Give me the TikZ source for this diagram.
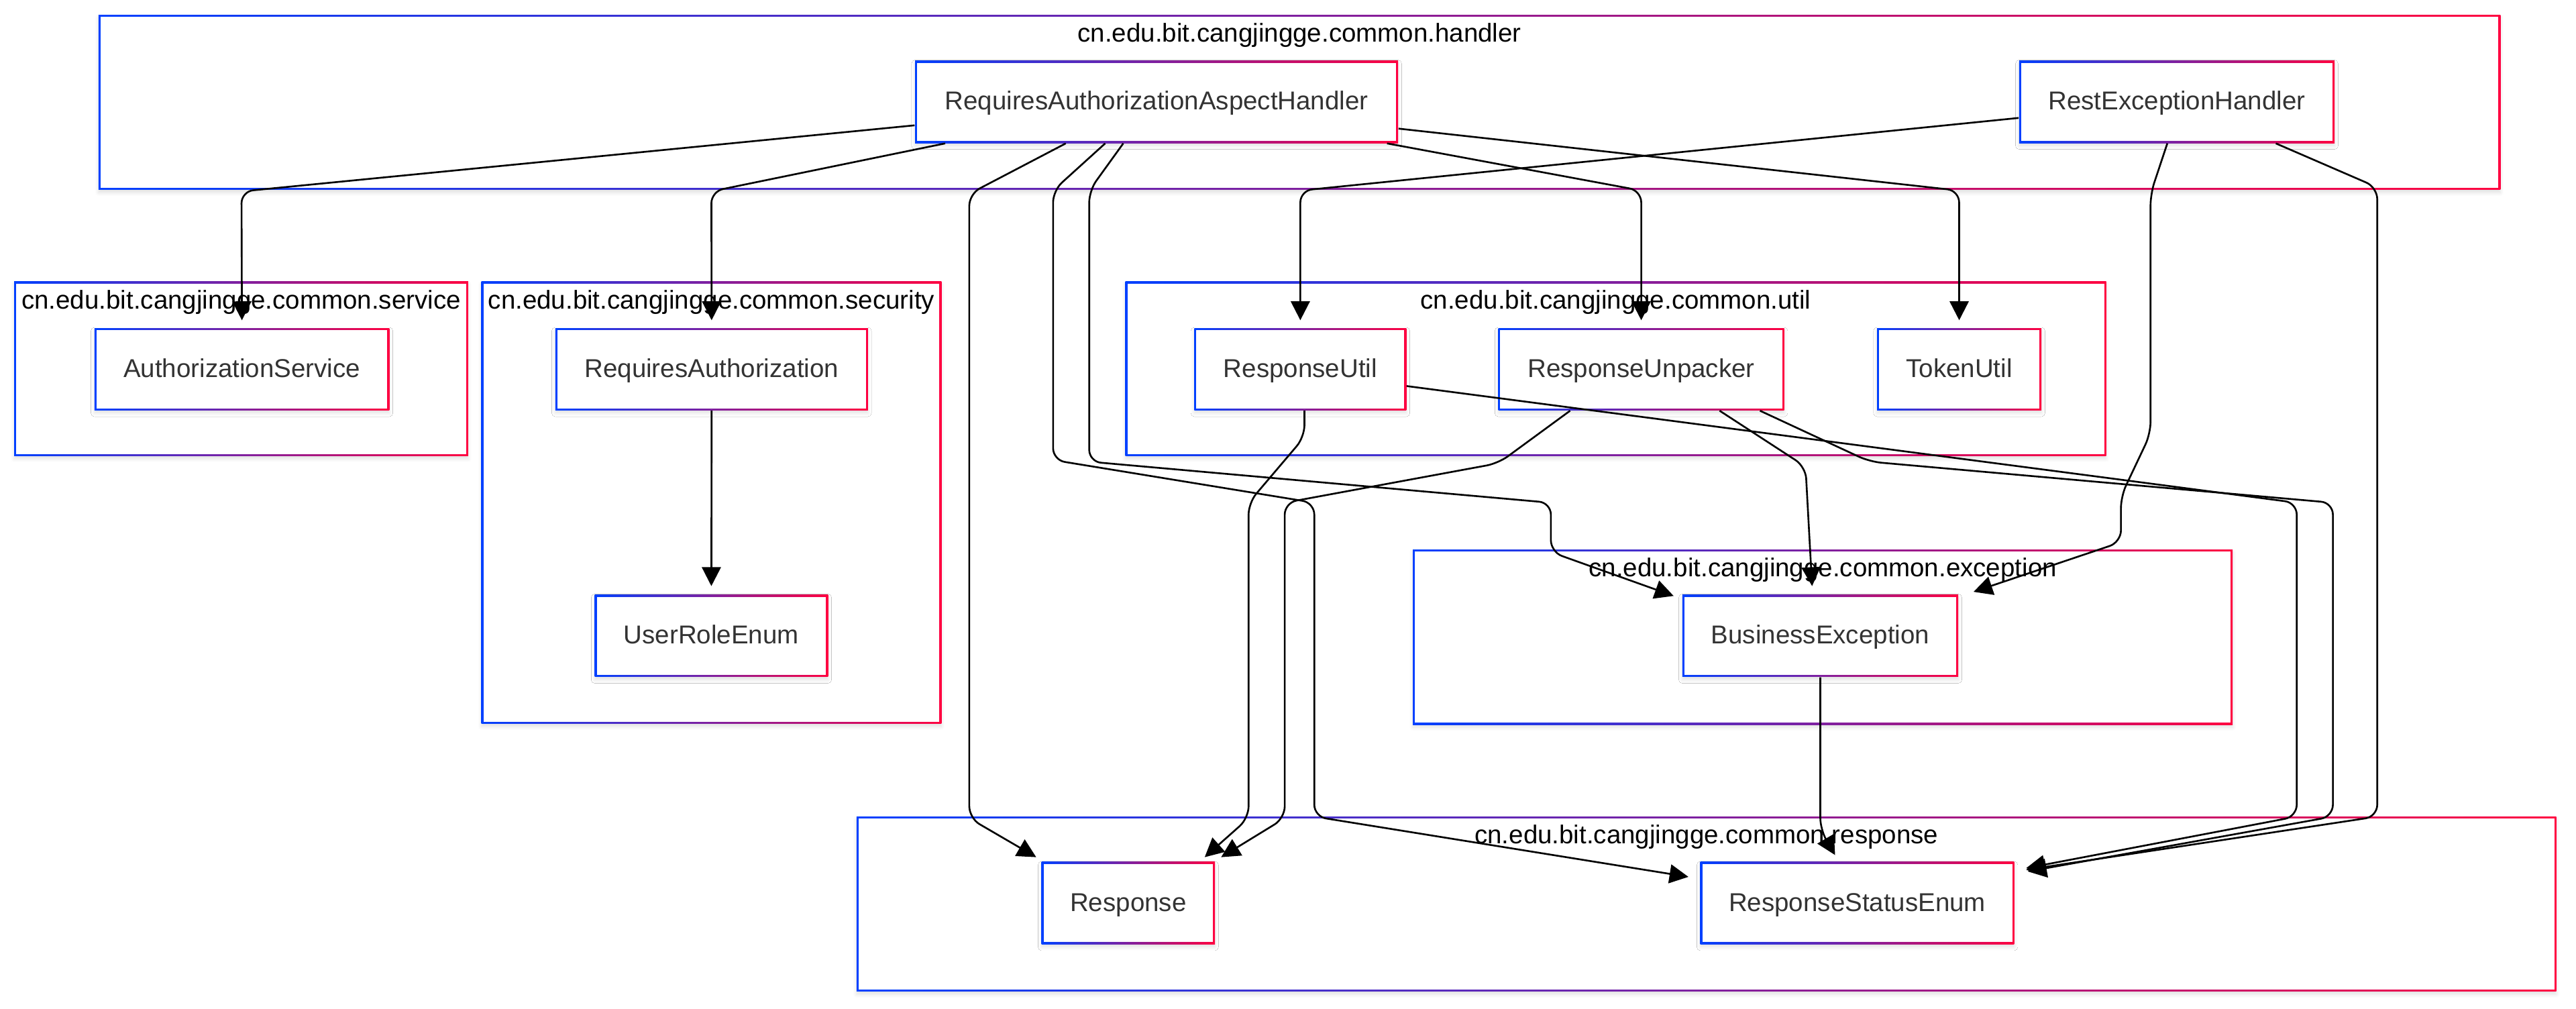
\documentclass[tikz,border=0pt]{standalone}
\usepackage{fontspec}
\setmainfont{Liberation Sans}
\usepackage{tikz}
\usetikzlibrary{positioning,arrows.meta,calc,shadows.blur}
\definecolor{gBlue}{HTML}{0040FF}
\definecolor{gRed}{HTML}{FF0040}
\definecolor{mText}{HTML}{333333}
\newcommand{\pkgfont}{\fontsize{10.95pt}{13pt}\selectfont}
\tikzset{
 gradbox/.style={rectangle, inner sep=0pt, left color=gBlue, right color=gRed,
  blur shadow={shadow xshift=0pt, shadow yshift=-1.2pt, shadow blur radius=1.5pt, shadow opacity=12},
  path picture={\fill[white] ([shift={(0.85pt,0.85pt)}]path picture bounding box.south west) rectangle ([shift={(-0.85pt,-0.85pt)}]path picture bounding box.north east);}},
 dep/.style={draw=black, line width=0.75pt, rounded corners=5pt, -{Triangle[length=8pt,width=8pt]}},
}
% package frame: name, x1, y1, x2, y2, title
\newcommand{\pkgbox}[6]{%
 \node[gradbox, minimum width={(#4-#2)*0.2449mm}, minimum height={(#5-#3)*0.2449mm}] (#1) at ({(#2+#4)/2},{(#3+#5)/2}) {};%
 \node[font=\pkgfont, anchor=base, inner sep=0pt] (#1T) at ({(#2+#4)/2},{#3+16.5}) {#6};}
% class box: name, x1, y1, x2, text
\newcommand{\clsnode}[5]{%
 \node[gradbox, text=mText, font=\pkgfont, text height=8.2pt, text depth=1.3pt, minimum width={(#4-#2)*0.2449mm}, minimum height={50*0.2449mm}] (#1) at ({(#2+#4)/2},{#3+25}) {#5};}

\begin{document}
\begin{tikzpicture}[x=0.2449mm, y=-0.2449mm]
\useasboundingbox (0,0) rectangle (1568,614);
\pkgbox{handler}{60}{9}{1522}{115.5}{cn.edu.bit.cangjingge.common.handler}
\pkgbox{service}{8.6}{171.5}{285}{277.5}{cn.edu.bit.cangjingge.common.service}
\pkgbox{security}{293}{171.5}{573}{440.5}{cn.edu.bit.cangjingge.common.security}
\pkgbox{util}{685}{171.5}{1282}{277.5}{cn.edu.bit.cangjingge.common.util}
\pkgbox{exception}{860}{334.5}{1359}{441}{cn.edu.bit.cangjingge.common.exception}
\pkgbox{response}{521.4}{497}{1556}{603.5}{cn.edu.bit.cangjingge.common.response}

\clsnode{raah}{557}{37}{851}{RequiresAuthorizationAspectHandler}
\clsnode{reh}{1229}{37}{1421}{RestExceptionHandler}
\clsnode{authsvc}{57.5}{199.7}{237}{AuthorizationService}
\clsnode{reqauth}{338}{199.7}{528.3}{RequiresAuthorization}
\clsnode{userrole}{362}{362}{504}{UserRoleEnum}
\clsnode{resputil}{727}{199.7}{856}{ResponseUtil}
\clsnode{respunp}{912}{199.7}{1086}{ResponseUnpacker}
\clsnode{tokenutil}{1142.5}{199.7}{1242.6}{TokenUtil}
\clsnode{bizex}{1024}{362}{1192}{BusinessException}
\clsnode{resp}{634}{524.7}{739.5}{Response}
\clsnode{rse}{1035}{524.7}{1226}{ResponseStatusEnum}

% handler dependencies
\draw[dep] ($(raah.south west)+(0,-11)$) -- (147,116.5) -- ($(authsvc.north)+(0,-4.5)$);
\draw[dep] ($(raah.south west)+(18.6,0)$) -- (433,116.5) -- ($(reqauth.north)+(0,-4.5)$);
\draw[dep] ($(raah.south west)+(92,0)$) -- (590,118) -- (590,498) -- ($(resp.north west)+(-3,-2.7)$);
\draw[dep] ($(raah.south west)+(116,0)$) -- (641,116) -- (641,280) -- (800,306) -- (800,497) -- ($(rse.west)+(-7,-16)$);
\draw[dep] ($(raah.south west)+(127,0)$) -- (663,116) -- (663,281) -- (944,306) -- (944,336) -- ($(bizex.north west)+(-5,1)$);
\draw[dep] ($(raah.south east)+(-7,0)$) -- (999,116) -- ($(respunp.north)+(0,-4.5)$);
\draw[dep] ($(raah.south east)+(0,-9)$) -- (1192.5,116) -- ($(tokenutil.north)+(0,-4.5)$);
\draw[dep] ($(reh.south west)+(0,-15.5)$) -- (791.5,116) -- ($(resputil.north)+(0,-4.5)$);
\draw[dep] ($(reh.south west)+(90.5,0)$) -- (1309,118) -- (1309,264) -- (1291,302) -- (1291,330) -- ($(bizex.north east)+(9,-1.5)$);
\draw[dep] ($(reh.south east)+(-36,0)$) -- (1447,114) -- (1447,497) -- ($(rse.north east)+(7,5)$);
% util dependencies
\draw[dep] ($(resputil.south east)+(0,-15)$) -- (1398,306) -- (1398,497) -- ($(rse.north east)+(7,4)$);
\draw[dep] ($(respunp.south east)+(-15,0)$) -- (1138,281) -- (1420,306) -- (1420,497) -- ($(rse.north east)+(8,6)$);
\draw[dep] ($(respunp.south west)+(44,0)$) -- (912,282) -- (782,306) -- (782,498) -- ($(resp.north east)+(3.5,-2.7)$);
\draw[dep] ($(resputil.south)+(2.5,0)$) -- (794,266) -- (760,306) -- (760,498) -- ($(resp.north east)+(-6.5,-2.7)$);
\draw[dep] ($(respunp.south west)+(135,0)$) -- (1099,284) -- ($(bizex.north)+(-5,-5)$);
\draw[dep] (bizex.south) -- (1108,505) -- ($(rse.north)+(-13.5,-4)$);
\draw[dep] (reqauth.south) -- ($(userrole.north)+(0,-5)$);
\end{tikzpicture}
\end{document}
